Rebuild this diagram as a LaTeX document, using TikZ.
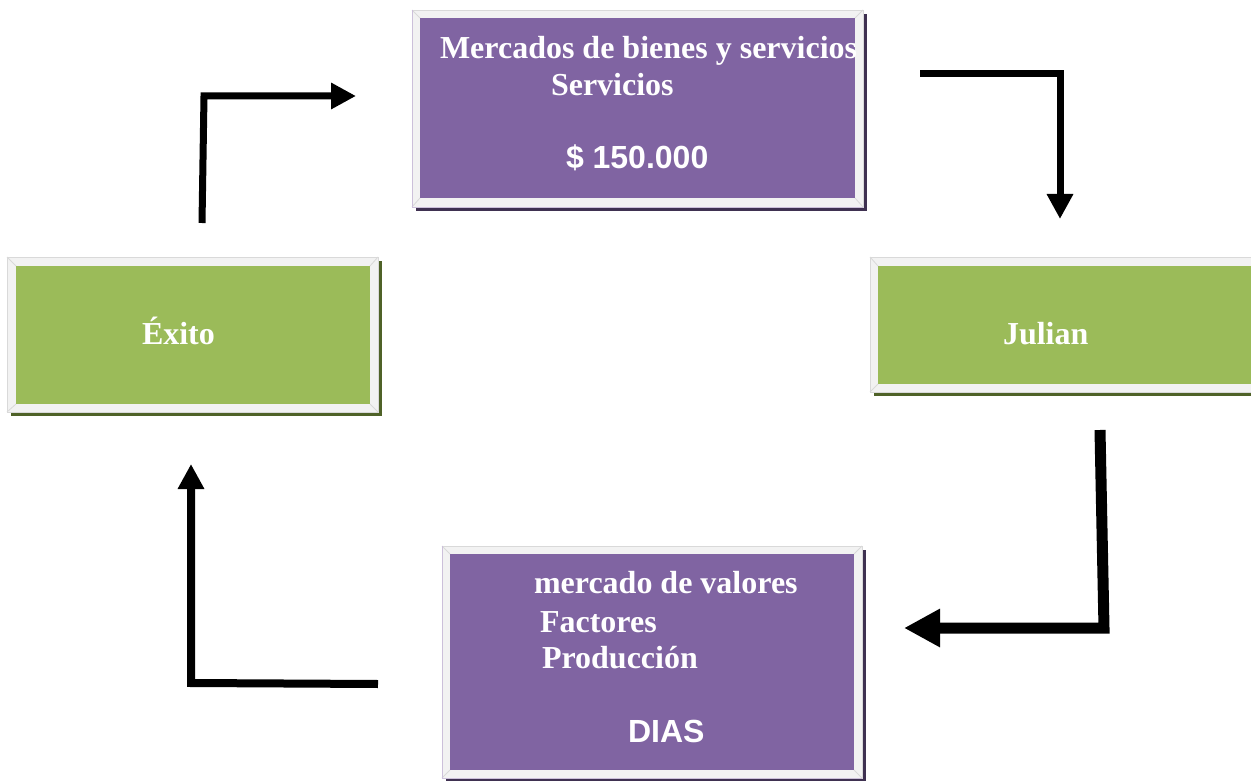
\documentclass[tikz,border=0pt]{standalone}
\usepackage{fontspec}
\newfontfamily\serifb{Liberation Serif}
\newfontfamily\sansb{Liberation Sans}
\usetikzlibrary{arrows.meta}
\definecolor{purp}{HTML}{8064A2}
\definecolor{grn}{HTML}{9BBB59}
\definecolor{shpurp}{HTML}{3F3151}
\definecolor{shgrn}{HTML}{4F6228}
\definecolor{framegray}{HTML}{F2F2F2}
\definecolor{framelin}{HTML}{D9D9D9}
\definecolor{framelav}{HTML}{CCC0DA}
\tikzset{
  frame/.style={draw=framelin, line width=0.8pt, fill=framegray, inner sep=0pt, outer sep=0pt},
  inbox/.style={inner sep=0pt, outer sep=0pt},
  bevel/.style={draw=framelin, line width=0.8pt},
  lbl/.style={text=white, anchor=base west, inner sep=0pt, outer sep=0pt, font=\serifb\bfseries\fontsize{32}{37}\selectfont},
  lbls/.style={text=white, anchor=base west, inner sep=0pt, outer sep=0pt, font=\sansb\bfseries\fontsize{32}{37}\selectfont},
  arr/.style={line width=7pt, line join=miter, -{Triangle[width=25pt,length=25pt]}},
  arrbig/.style={line width=11pt, line join=miter, -{Triangle[width=36pt,length=36pt]}},
}
\begin{document}
\begin{tikzpicture}[x=1pt,y=-1pt]
\useasboundingbox (0,0) rectangle (1251,781);
\fill[white] (0,0) rectangle (1251,781);

% ---- top purple box
\node[frame, minimum width=451pt, minimum height=197pt] (topbox) at (637.5,108.5) {};
\fill[shpurp] ([shift={(4,4)}]topbox.north west) rectangle ([shift={(4,4)}]topbox.south east);
\node[frame, minimum width=451pt, minimum height=197pt] at (637.5,108.5) {};
\node[inbox, fill=purp, minimum width=435pt, minimum height=180pt] (topin) at (637.5,108) {};
\draw[bevel] (topbox.north west) -- (topin.north west) (topbox.north east) -- (topin.north east)
  (topbox.south west) -- (topin.south west) (topbox.south east) -- (topin.south east);
\draw[framelav, line width=0.8pt] (topbox.north west) -- (topbox.south west) -- (topbox.south east);

% ---- left green box
\node[frame, minimum width=371pt, minimum height=155pt] (leftbox) at (192.5,334.5) {};
\fill[shgrn] ([shift={(4,4)}]leftbox.north west) rectangle ([shift={(4,4)}]leftbox.south east);
\node[frame, minimum width=371pt, minimum height=155pt] at (192.5,334.5) {};
\node[inbox, fill=grn, minimum width=354pt, minimum height=138pt] (leftin) at (193,335) {};
\draw[bevel] (leftbox.north west) -- (leftin.north west) (leftbox.north east) -- (leftin.north east)
  (leftbox.south west) -- (leftin.south west) (leftbox.south east) -- (leftin.south east);

% ---- right green box
\node[frame, minimum width=392pt, minimum height=135pt] (rightbox) at (1066,324.5) {};
\fill[shgrn] ([shift={(4,4)}]rightbox.north west) rectangle ([shift={(4,4)}]rightbox.south east);
\node[frame, minimum width=392pt, minimum height=135pt] at (1066,324.5) {};
\node[inbox, fill=grn, minimum width=376pt, minimum height=118pt] (rightin) at (1066,325) {};
\draw[bevel] (rightbox.north west) -- (rightin.north west) (rightbox.south west) -- (rightin.south west);

% ---- bottom purple box
\node[frame, minimum width=420pt, minimum height=232pt] (botbox) at (652,662) {};
\fill[shpurp] ([shift={(4,4)}]botbox.north west) rectangle ([shift={(4,4)}]botbox.south east);
\node[frame, minimum width=420pt, minimum height=232pt] at (652,662) {};
\node[inbox, fill=purp, minimum width=404pt, minimum height=216pt] (botin) at (652,662) {};
\draw[bevel] (botbox.north west) -- (botin.north west) (botbox.north east) -- (botin.north east)
  (botbox.south west) -- (botin.south west) (botbox.south east) -- (botin.south east);
\draw[framelav, line width=0.8pt] (botbox.north west) -- (botbox.south west) -- (botbox.south east);

% ---- texts
\node[lbl] (t1) at (440,59) {Mercados de bienes y servicios};
\node[lbl] (t2) at (551,96) {Servicios};
\node[lbls] (t3) at (566,168.5) {\$ 150.000};
\node[lbl] (t4) at (142,344) {Éxito};
\node[lbl] (t5) at (1003,344) {Julian};
\node[lbl] (t6) at (534,593.5) {mercado de valores};
\node[lbl] (t7) at (540,632) {Factores};
\node[lbl] (t8) at (542,668.5) {Producción};
\node[lbls] (t9) at (628,742) {DIAS};

% ---- connectors
\coordinate (a1s) at (202,223);
\coordinate (a1c) at (204,96);
\coordinate (a1e) at (356,96);
\coordinate (a2s) at (920,74);
\coordinate (a2c) at (1060,74);
\coordinate (a2e) at (1060,219);
\coordinate (a3s) at (1100,430);
\coordinate (a3c) at (1104,628);
\coordinate (a3e) at (904,628);
\coordinate (a4s) at (378,684);
\coordinate (a4c) at (191,683);
\coordinate (a4e) at (191,464);
\draw[arr] (a1s) -- (a1c) -- (a1e);
\draw[arr] (a2s) -- (a2c) -- (a2e);
\draw[arrbig] (a3s) -- (a3c) -- (a3e);
\draw[arr, line width=8pt] (a4s) -- (a4c) -- (a4e);
\end{tikzpicture}
\end{document}
